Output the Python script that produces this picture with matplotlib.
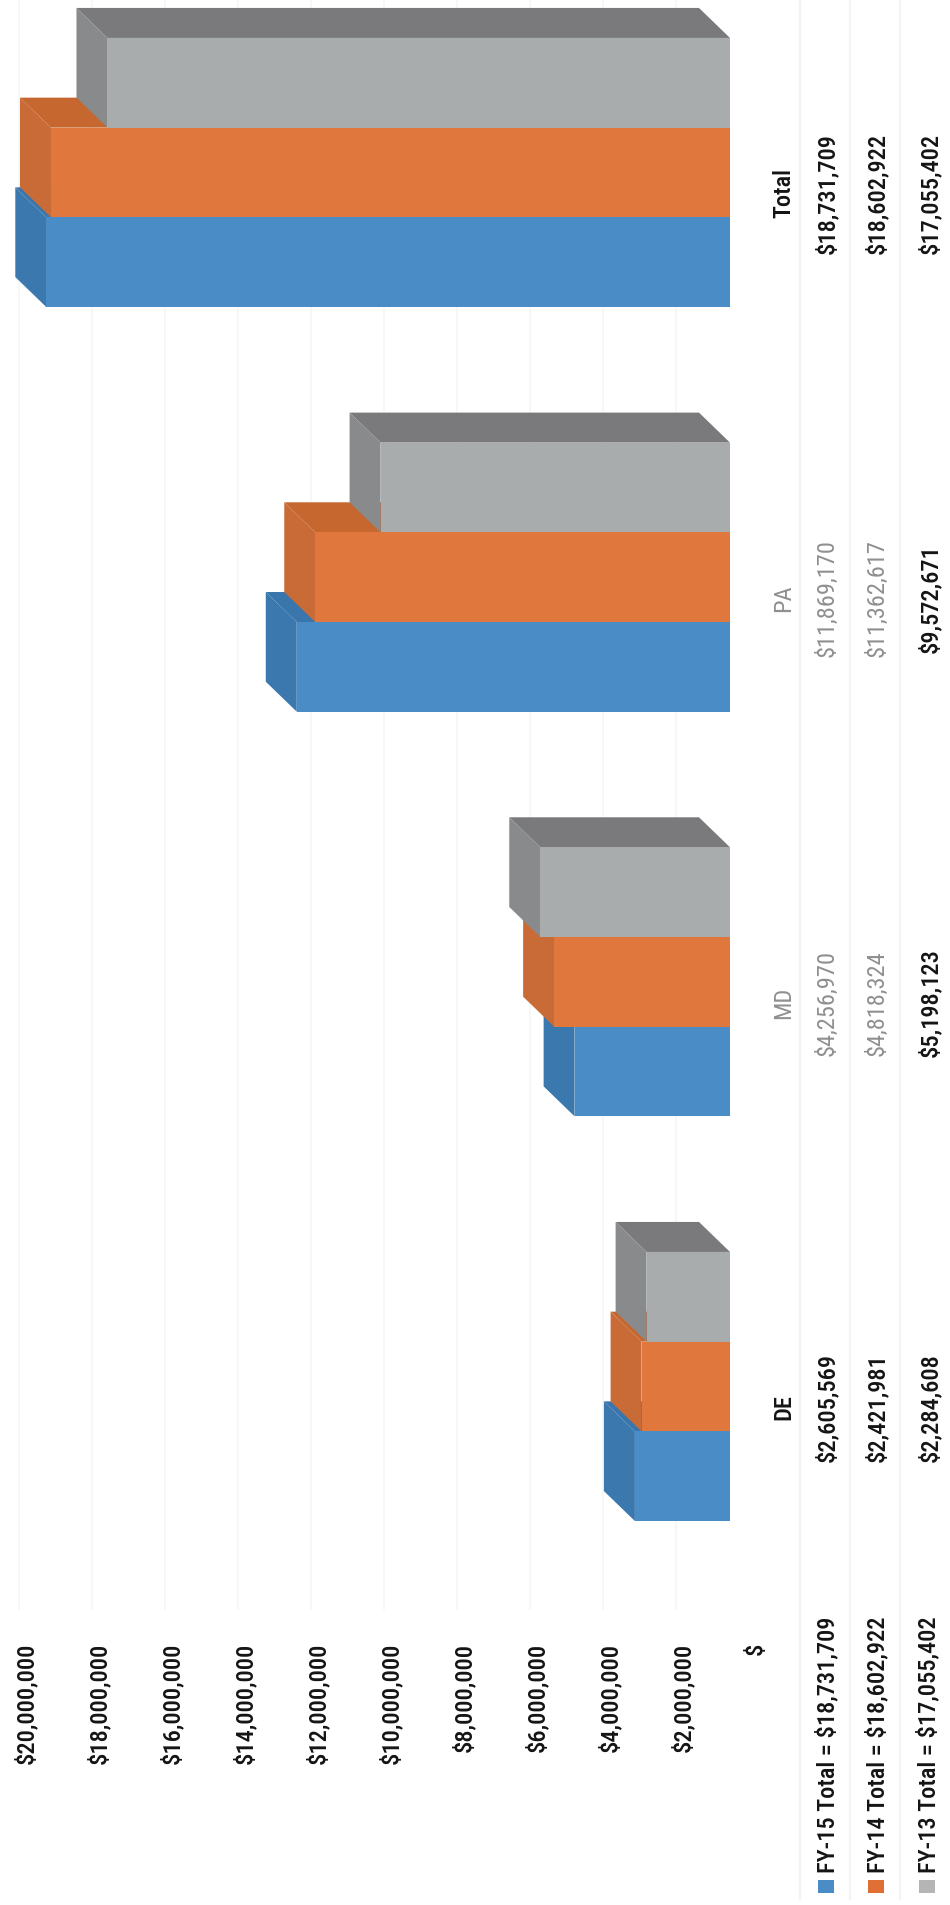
import matplotlib
matplotlib.use("Agg")
import matplotlib.pyplot as plt
from matplotlib.patches import Polygon, Rectangle

plt.rcParams['font.family'] = ['Roboto Condensed', 'DejaVu Sans']

categories = ["DE", "MD", "PA", "Total"]
fy15 = [2605569, 4256970, 11869170, 18731709]
fy14 = [2421981, 4818324, 11362617, 18602922]
fy13 = [2284608, 5198123, 9572671, 17055402]
series_names = ["FY-15", "FY-14", "FY-13"]
tick_values = [2000000 * i for i in range(11)]

# front, end cap, top side of each box
blue = ("#4a8cc6", "#3b78ae", "#3a76ab")
orange = ("#e0783e", "#c96b36", "#c5672f")
grey = ("#a9acac", "#888a8c", "#7a797c")

W, H = 950, 1906
PX_PER_VALUE = 36.5 / 1e6   # image px per dollar
PX_PER_CAT = 404.67
BASE_X = 730                # px of $0 on the front plane
DE_Y = 1387.5               # px of first category centre
BAND = 89.7 / PX_PER_CAT
DV = 31 / PX_PER_VALUE      # depth of the boxes along the value axis
DY = 30 / PX_PER_CAT        # depth of the boxes along the category axis


def money(v):
    return f"${v:,.0f}"


def draw_box(ax, y0, value, colors):
    y1 = y0 + BAND
    ax.add_patch(Polygon([(0, y1), (DV, y1 + DY), (value + DV, y1 + DY), (value, y1)],
                         facecolor=colors[2], edgecolor="none"))
    ax.add_patch(Polygon([(value, y0), (value + DV, y0 + DY), (value + DV, y1 + DY), (value, y1)],
                         facecolor=colors[1], edgecolor="none"))
    ax.barh(y0 + BAND / 2, value, height=BAND, color=colors[0], linewidth=0)


fig = plt.figure(figsize=(W / 100, H / 100), dpi=100)
ax = fig.add_axes([0, 0, 1, 1])
# image is a scan turned on its side: value grows to the left, categories go up
ax.set_xlim(BASE_X / PX_PER_VALUE, (BASE_X - W) / PX_PER_VALUE)
ax.set_ylim((DE_Y - H) / PX_PER_CAT, DE_Y / PX_PER_CAT)
ax.axis("off")

grid_bottom = (DE_Y - 1610) / PX_PER_CAT
grid_top = DE_Y / PX_PER_CAT
grid_shift = 19 / PX_PER_VALUE
for v in tick_values[1:]:
    ax.plot([v - grid_shift] * 2, [grid_bottom, grid_top], color="#f6f6f6", lw=1.2, zorder=0)

# table rules
for x in [800, 850, 900]:
    fig.add_artist(plt.Line2D([x / W, x / W], [1 - 1900 / H, 1], color="#f4f4f4", lw=1.6, zorder=0))

for i in range(len(categories)):
    draw_box(ax, i - 1.5 * BAND, fy15[i], blue)
    draw_box(ax, i - 0.5 * BAND, fy14[i], orange)
    draw_box(ax, i + 0.5 * BAND, fy13[i], grey)

FS = 17.6
DARK = "#141414"
FAINT = "#8f8f8f"

# value axis labels, turned with the page
for v in tick_values:
    label = money(v) if v else "$"
    ax.annotate(label, xy=(v, (DE_Y - 1643) / PX_PER_CAT), xytext=(26, 0), textcoords="offset pixels",
                rotation=90, ha="center", va="top", fontsize=FS, color=DARK, fontweight=500)

# table under the chart
rows_x = [827, 877, 930]
rows = [fy15, fy14, fy13]
for i, cat in enumerate(categories):
    y = 1 - (DE_Y + 20 - i * PX_PER_CAT) / H
    cat_color = FAINT if cat in ("MD", "PA") else DARK
    cat_weight = 400 if cat in ("MD", "PA") else 500
    fig.text(784 / W, y, cat, rotation=90, ha="center", va="center", fontsize=FS,
             color=cat_color, fontweight=cat_weight)
    for r, x in enumerate(rows_x):
        faint = cat in ("MD", "PA") and r < 2
        fig.text(x / W, y, money(rows[r][i]), rotation=90, ha="center", va="center", fontsize=FS,
                 color=FAINT if faint else DARK, fontweight=400 if faint else 500)

# legend rows
legend_x = [827, 877, 928]
swatches = [blue[0], "#e06f35", "#b5b5b5"]
for r, x in enumerate(legend_x):
    fig.text(x / W, 1 - 1873 / H, f"{series_names[r]} Total = {money(rows[r][-1])}", rotation=90,
             ha="center", va="bottom", fontsize=FS, color=DARK, fontweight=500)
    fig.add_artist(Rectangle(((x - 9) / W, 1 - 1894 / H), 16 / W, 13 / H,
                             transform=fig.transFigure, facecolor=swatches[r], edgecolor="none"))

fig.savefig("out.png", dpi=100, facecolor="white")
